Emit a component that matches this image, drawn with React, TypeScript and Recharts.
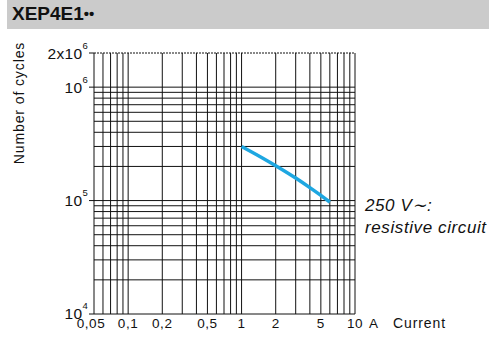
import { LineChart, Line, XAxis, YAxis, ReferenceLine } from "recharts";

// curve 250 V~ resistive circuit
const current = [1, 1.5, 2, 3, 4, 5, 6];
const cycles = [300000, 240000, 203000, 158000, 130000, 111000, 97000];

const xTicks = [0.05, 0.1, 0.2, 0.5, 1, 2, 5, 10];
const xTickLabels = ["0,05", "0,1", "0,2", "0,5", "1", "2", "5", "10"];
const yTicks = [10000, 100000, 1000000, 2000000];
const yTickBase = ["10", "10", "10", "2x10"];
const yTickExp = ["4", "5", "6", "6"];

const xGrid = [
  0.05, 0.06, 0.07, 0.08, 0.09, 0.1, 0.2, 0.3, 0.4, 0.5, 0.6, 0.7, 0.8, 0.9, 1,
  2, 3, 4, 5, 6, 7, 8, 9, 10,
];
const yGrid = [
  10000, 20000, 30000, 40000, 50000, 60000, 70000, 80000, 90000, 100000, 200000,
  300000, 400000, 500000, 600000, 700000, 800000, 900000, 1000000,
];

const data = current.map((c, i) => ({ current: c, cycles: cycles[i] }));

const FONT = "'Liberation Sans', Arial, Helvetica, sans-serif";

function XTick(props: any) {
  const { x, payload } = props;
  const i = xTicks.indexOf(payload.value);
  const label = xTickLabels[i];
  // first label sits a little left of its line in the original
  const dx = i === 0 ? -3 : 0;
  return (
    <g>
      <text x={x + dx} y={328} textAnchor="middle" fontSize={13.5} fill="#111" fontFamily={FONT} letterSpacing={0.6}>
        {label}
      </text>
      {payload.value === 10 && (
        <text x={x + 14} y={328} fontSize={13.5} fill="#111" fontFamily={FONT}>
          A
        </text>
      )}
    </g>
  );
}

function YTick(props: any) {
  const { x, y, payload } = props;
  const i = yTicks.indexOf(payload.value);
  const lift = i === 0 ? 1 : 0;
  return (
    <text x={x} y={y + 5.5 - lift} textAnchor="end" fontSize={15.5} fill="#111" fontFamily={FONT} letterSpacing={0.3}>
      <tspan>{yTickBase[i]}</tspan>
      <tspan dy={-10} fontSize={9.5}>
        {yTickExp[i]}
      </tspan>
    </text>
  );
}

export default function App() {
  return (
    <div style={{ position: "absolute", left: 0, top: 0, width: 489, height: 337, background: "#fff", fontFamily: FONT }}>
      <div
        style={{
          position: "absolute",
          left: 7,
          top: 0,
          width: 482,
          height: 29,
          background: "#cbcbcb",
        }}
      />
      <div style={{ position: "absolute", left: 12, top: 3, fontSize: 19, fontWeight: "bold", color: "#111", whiteSpace: "nowrap" }}>
        XEP4E1<span style={{ fontSize: 15, verticalAlign: 1 }}>••</span>
      </div>
      <div
        style={{
          position: "absolute",
          left: 19,
          top: 103,
          transform: "translate(-50%, -50%) rotate(-90deg)",
          whiteSpace: "nowrap",
          fontSize: 14,
          letterSpacing: 0.9,
          color: "#111",
        }}
      >
        Number of cycles
      </div>
      <div style={{ position: "absolute", left: 393, top: 315, fontSize: 14, letterSpacing: 0.9, color: "#111" }}>
        Current
      </div>
      <div
        style={{
          position: "absolute",
          left: 365,
          top: 195,
          fontSize: 17,
          fontStyle: "italic",
          lineHeight: "22px",
          letterSpacing: 0.6,
          color: "#111",
          whiteSpace: "nowrap",
        }}
      >
        250 V∼:
        <br />
        resistive circuit
      </div>
      <div style={{ position: "absolute", left: 0, top: 0 }}>
        <LineChart width={489} height={337} data={data} margin={{ top: 53, right: 134, bottom: 0, left: 0 }}>
          <XAxis
            dataKey="current"
            type="number"
            scale="log"
            domain={[0.05, 10]}
            ticks={xTicks}
            tick={<XTick />}
            tickLine={false}
            axisLine={false}
            height={23}
            allowDataOverflow
            interval={0}
          />
          <YAxis
            type="number"
            scale="log"
            domain={[10000, 2000000]}
            ticks={yTicks}
            tick={<YTick />}
            tickSize={5}
            tickMargin={1}
            tickLine={{ stroke: "#111" }}
            axisLine={false}
            width={94}
            allowDataOverflow
            interval={0}
          />
          {xGrid.map((v) => (
            <ReferenceLine key={"x" + v} x={v} stroke="#111" strokeWidth={1} />
          ))}
          {yGrid.map((v) => (
            <ReferenceLine key={"y" + v} y={v} stroke="#111" strokeWidth={1} />
          ))}
          <ReferenceLine y={2000000} stroke="#111" strokeWidth={1} strokeDasharray="2 1" />
          <Line
            type="monotone"
            dataKey="cycles"
            stroke="#1ea7e1"
            strokeWidth={3.5}
            dot={false}
            isAnimationActive={false}
          />
        </LineChart>
      </div>
    </div>
  );
}
